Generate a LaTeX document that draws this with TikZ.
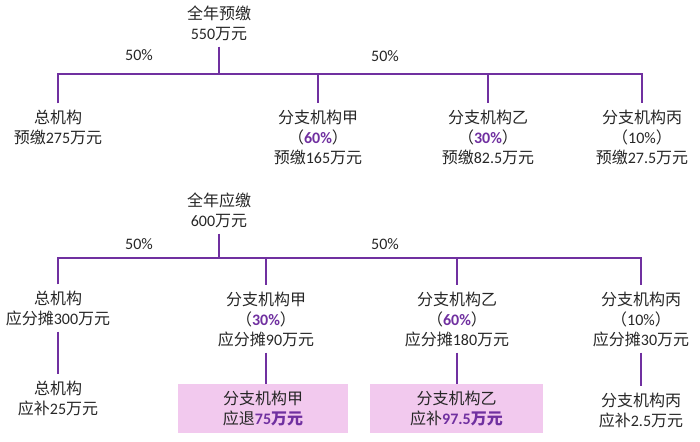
\documentclass[tikz,border=0pt]{standalone}
\usepackage{fontspec}
\setmainfont{Carlito}
\newfontfamily\cjk{Noto Sans CJK SC}
\newcommand\zh[1]{{\cjk #1}}
\definecolor{pur}{HTML}{7030A0}
\definecolor{boxfill}{HTML}{F2C9EE}
\definecolor{txt}{HTML}{262626}
\newcommand\pc[1]{{\bfseries\color{pur}#1}}
\newcommand\pz[1]{{\cjk\bfseries\color{pur}#1}}
\begin{document}
\begin{tikzpicture}[x=1pt,y=-1pt,
  lbl/.style={align=center,inner xsep=2pt,inner ysep=6pt,text=txt,font=\fontsize{16}{20}\selectfont},
  pct/.style={inner sep=0pt,text=txt,font=\fontsize{16}{20}\selectfont},
  pbox/.style={lbl,fill=boxfill,minimum height=49pt,inner ysep=0pt},
  conn/.style={draw=pur,line width=1.4pt}]
\useasboundingbox (0,0) rectangle (700,441);
% ---------- top diagram ----------
\node[lbl] (t1) at (219,23) {\zh{全年预缴}\\550\zh{万元}};
\node[pct] (p1) at (139,55) {50\%};
\node[pct] (p2) at (385,56) {50\%};
\coordinate (bus1) at (219,74);
\node[lbl] (a1) at (58,127) {\zh{总机构}\\\zh{预缴}275\zh{万元}};
\node[lbl] (a2) at (318,137) {\zh{分支机构甲}\\\zh{（}\pc{60\%}\zh{）}\\\zh{预缴}165\zh{万元}};
\node[lbl] (a3) at (488,137) {\zh{分支机构乙}\\\zh{（}\pc{30\%}\zh{）}\\\zh{预缴}82.5\zh{万元}};
\node[lbl] (a4) at (642,137) {\zh{分支机构丙}\\\zh{（}10\%\zh{）}\\\zh{预缴}27.5\zh{万元}};
\draw[conn] (t1.south) -- (bus1);
\draw[conn] (a1.north) -- (a1.north |- bus1) -- (a4.north |- bus1) -- (a4.north);
\draw[conn] (a2.north |- bus1) -- (a2.north);
\draw[conn] (a3.north |- bus1) -- (a3.north);
% ---------- bottom diagram ----------
\node[lbl] (t2) at (219,210) {\zh{全年应缴}\\600\zh{万元}};
\node[pct] (p3) at (139,244) {50\%};
\node[pct] (p4) at (385,244) {50\%};
\coordinate (bus2) at (219,258);
\node[lbl] (b1) at (58,308) {\zh{总机构}\\\zh{应分摊}300\zh{万元}};
\node[lbl] (b2) at (266,319) {\zh{分支机构甲}\\\zh{（}\pc{30\%}\zh{）}\\\zh{应分摊}90\zh{万元}};
\node[lbl] (b3) at (457,319) {\zh{分支机构乙}\\\zh{（}\pc{60\%}\zh{）}\\\zh{应分摊}180\zh{万元}};
\node[lbl] (b4) at (641,319) {\zh{分支机构丙}\\\zh{（}10\%\zh{）}\\\zh{应分摊}30\zh{万元}};
\draw[conn] (t2.south) -- (bus2);
\draw[conn] (b1.north) -- (b1.north |- bus2) -- (b4.north |- bus2) -- (b4.north);
\draw[conn] (b2.north |- bus2) -- (b2.north);
\draw[conn] (b3.north |- bus2) -- (b3.north);
\node[lbl] (c1) at (58,398) {\zh{总机构}\\\zh{应补}25\zh{万元}};
\node[pbox,minimum width=170pt] (c2) at (263,408.5) {\zh{分支机构甲}\\\zh{应退}\pc{75}\pz{万元}};
\node[pbox,minimum width=173pt] (c3) at (456.5,408.5) {\zh{分支机构乙}\\\zh{应补}\pc{97.5}\pz{万元}};
\node[lbl] (c4) at (641,410) {\zh{分支机构丙}\\\zh{应补}2.5\zh{万元}};
\draw[conn] (b1.south) -- (c1.north);
\draw[conn] (b2.south) -- (b2.south |- c2.north);
\draw[conn] (b3.south) -- (b3.south |- c3.north);
\draw[conn] (b4.south) -- (c4.north);
\end{tikzpicture}
\end{document}
